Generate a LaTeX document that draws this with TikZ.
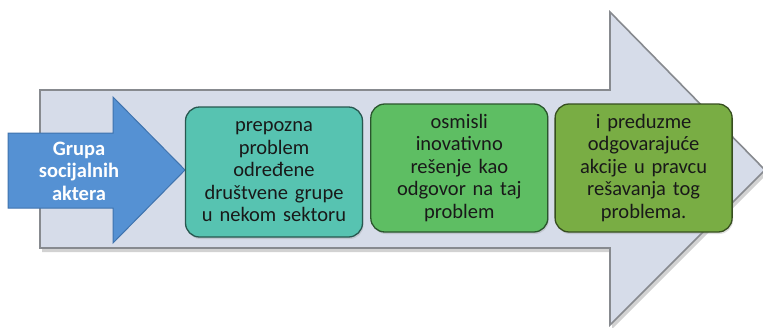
\documentclass[tikz,border=0pt]{standalone}
\usepackage{fontspec}
\setmainfont{Carlito}
\usetikzlibrary{positioning, calc, shadows}

\definecolor{sivaplava}{HTML}{D6DCE9}
\definecolor{sivaivica}{HTML}{878A8F}
\definecolor{plava}{HTML}{5591D3}
\definecolor{plavaivica}{HTML}{3F73AE}
\definecolor{tirkiz}{HTML}{57C3B1}
\definecolor{zelena}{HTML}{5EBE63}
\definecolor{maslina}{HTML}{79AD44}

\begin{document}
\begin{tikzpicture}[x=1pt, y=-1pt,
    velika/.style={draw=sivaivica, line width=1.6pt, fill=sivaplava, line join=miter,
        drop shadow={shadow xshift=2pt, shadow yshift=-4pt, opacity=0.35}},
    mala/.style={draw=plavaivica, line width=1pt, fill=plava, line join=miter},
    malitekst/.style={text=white, font=\fontsize{20.5}{22.5}\selectfont\bfseries, align=center, inner sep=0pt},
    korak/.style={draw=#1!45!black, line width=1.3pt, rounded corners=14pt, fill=#1,
        minimum width=177pt, minimum height=128pt, text width=168pt, align=center, inner sep=0pt,
        text=black!90, font=\fontsize{20.5}{22.5}\selectfont,
        drop shadow={shadow xshift=1pt, shadow yshift=-2pt, opacity=0.25}}]
  \useasboundingbox (0,0) rectangle (763,327);
  \fill[white] (0,0) rectangle (763,327);
  % velika strelica u pozadini
  \draw[velika] (40,90) -- (610,90) -- (610,12) -- (765,170) -- (610,325) -- (610,248) -- (40,248) -- cycle;
  % mala plava strelica
  \draw[mala] (8,133) -- (113,133) -- (113,97) -- (185,170) -- (113,243) -- (113,208) -- (8,208) -- cycle;
  \node[malitekst] (akteri) at (79,171) {Grupa\\socijalnih\\aktera};
  % tri koraka
  \node[korak=tirkiz, minimum height=130pt] (prepozna) at (274,172) {prepozna\\problem\\određene\\društvene grupe\\u nekom sektoru};
  \node[korak=zelena, right=7pt of prepozna, yshift=4pt] (osmisli) {osmisli\\inovativno\\rešenje kao\\odgovor na taj\\problem};
  \node[korak=maslina, right=6pt of osmisli] (preduzme) {i preduzme\\odgovarajuće\\akcije u pravcu\\rešavanja tog\\problema.};
\end{tikzpicture}
\end{document}
